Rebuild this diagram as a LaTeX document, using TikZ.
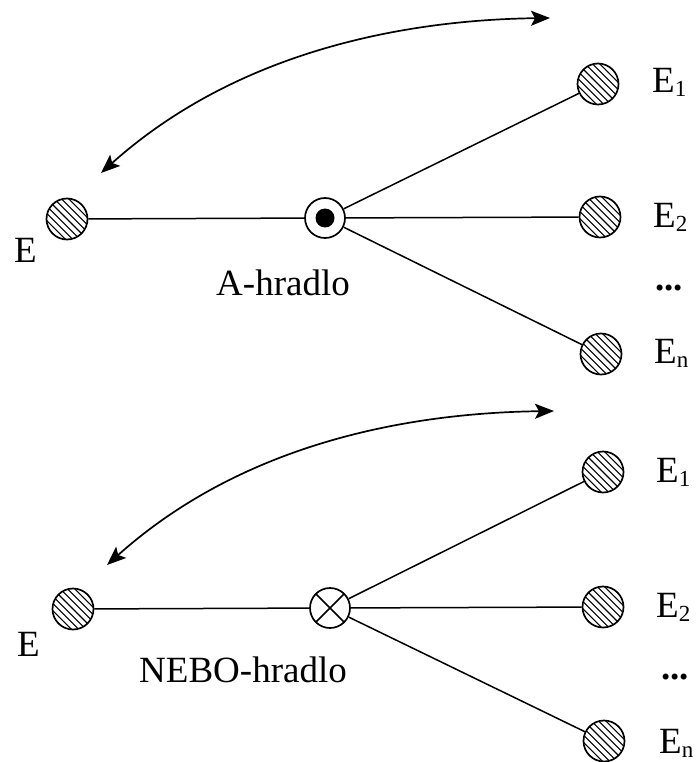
\documentclass[tikz,border=0pt]{standalone}
\usepackage{fontspec}
\setmainfont{Liberation Serif}
\usetikzlibrary{arrows.meta}
\newcommand\subsc[1]{\raisebox{-4pt}{\fontsize{23}{23}\selectfont #1}}
\begin{document}
\begin{tikzpicture}[x=1pt,y=-1pt,
  elem/.style={circle, draw, line width=1.7pt, minimum size=41pt, inner sep=0pt,
    path picture={\foreach \i in {-6,...,6}{
      \draw[line width=1.1pt] ([shift={(\i*7.3-30,-30)}]path picture bounding box.center) -- ++(60,60);}}},
  gateA/.style={circle, draw, line width=1.7pt, minimum size=40pt, inner sep=0pt,
    path picture={\fill (path picture bounding box.center) circle (9.5pt);}},
  gateO/.style={circle, draw, line width=1.7pt, minimum size=40pt, inner sep=0pt,
    path picture={\draw[line width=1.5pt]
      (path picture bounding box.south west) -- (path picture bounding box.north east)
      (path picture bounding box.north west) -- (path picture bounding box.south east);}},
  wire/.style={line width=1.5pt},
  swing/.style={line width=1.7pt,
    {Stealth[length=19pt,width=15pt,inset=4pt]}-{Stealth[length=19pt,width=15pt,inset=4pt]}},
  lbl/.style={font=\fontsize{37}{40}\selectfont, inner sep=0pt, anchor=base west},
  gatelabel/.style={font=\fontsize{37}{40}\selectfont, inner sep=0pt, anchor=base},
]
\useasboundingbox (0,0) rectangle (696,762);

% ---- AND gate ----
\node[elem]  (tE)  at (67,219)  {};
\node[gateA] (tG)  at (325,218) {};
\node[elem]  (tE1) at (598,84)  {};
\node[elem]  (tE2) at (600,217) {};
\node[elem]  (tEn) at (601,354) {};
\draw[wire] (tE) -- (tG);
\draw[wire] (tG) -- (tE1);
\draw[wire] (tG) -- (tE2);
\draw[wire] (tG) -- (tEn);
\coordinate (tA) at (101,173);
\coordinate (tB) at (550,18);
\draw[swing] (tA) .. controls (235,53) and (400,20) .. (tB);
\node[lbl] (tLE)  at (14,262)  {E};
\node[gatelabel] (tLG)  at (283,295) {A-hradlo};
\node[lbl] (tL1)  at (652,93)  {E\subsc{1}};
\node[lbl] (tL2)  at (653,227) {E\subsc{2}};
\node[lbl] (tLd)  at (655,290) {\textbf{...}};
\node[lbl] (tLn)  at (654,363) {E\subsc{n}};

% ---- OR gate ----
\node[elem]  (bE)  at (73,609)  {};
\node[gateO] (bG)  at (330,608) {};
\node[elem]  (bE1) at (603,472) {};
\node[elem]  (bE2) at (603,607) {};
\node[elem]  (bEn) at (604,741) {};
\draw[wire] (bE) -- (bG);
\draw[wire] (bG) -- (bE1);
\draw[wire] (bG) -- (bE2);
\draw[wire] (bG) -- (bEn);
\coordinate (bA) at (107,565);
\coordinate (bB) at (554,411);
\draw[swing] (bA) .. controls (241,445) and (404,413) .. (bB);
\node[lbl] (bLE)  at (17,656)  {E};
\node[gatelabel] (bLG)  at (243,682) {NEBO-hradlo};
\node[lbl] (bL1)  at (656,482) {E\subsc{1}};
\node[lbl] (bL2)  at (656,617) {E\subsc{2}};
\node[lbl] (bLd)  at (661,679) {\textbf{...}};
\node[lbl] (bLn)  at (659,753) {E\subsc{n}};
\end{tikzpicture}
\end{document}
